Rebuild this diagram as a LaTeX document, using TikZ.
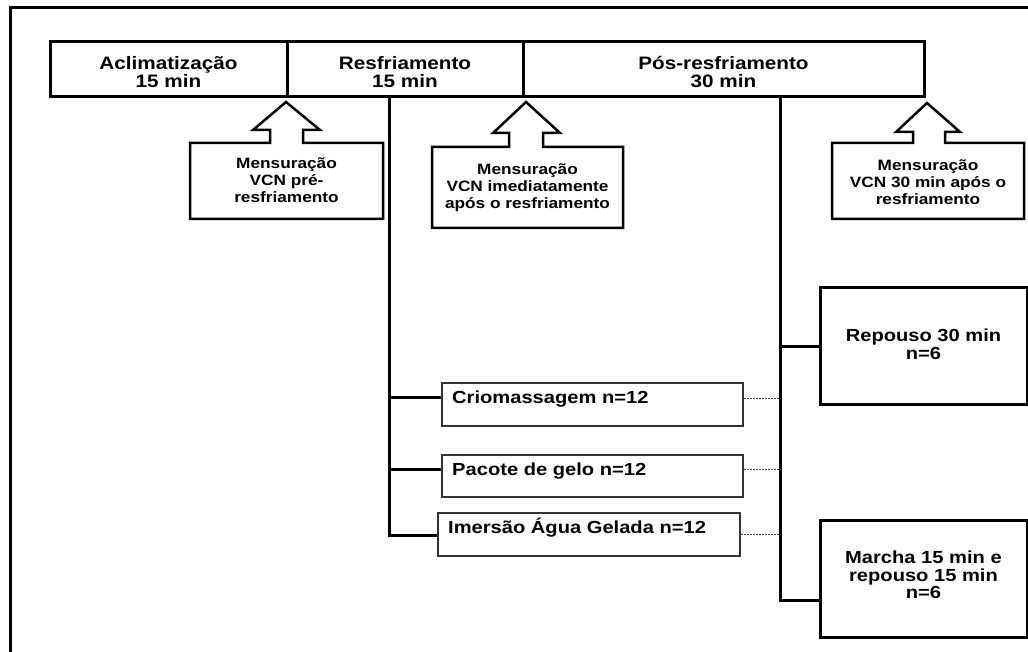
\documentclass[tikz,border=0pt]{standalone}
\usepackage{fontspec}
\newfontfamily\lsb{Liberation Sans}[FakeStretch=1.15]
\begin{document}
\begin{tikzpicture}[x=1pt,y=-1pt,
  barbox/.style={draw, line width=3pt, inner sep=0pt},
  bartext/.style={align=center, inner sep=0pt, font=\lsb\bfseries\fontsize{18}{18.5}\selectfont},
  calltext/.style={align=center, inner sep=0pt, font=\lsb\bfseries\fontsize{15}{17}\selectfont},
  callout/.style={draw, line width=2.5pt, line join=miter},
  grpbox/.style={draw=black!80, line width=1.8pt, inner sep=0pt},
  grptext/.style={anchor=west, inner sep=0pt, font=\lsb\bfseries\fontsize{17.5}{17}\selectfont},
  postbox/.style={draw, line width=3pt, inner sep=0pt},
  posttext/.style={align=center, inner sep=0pt, font=\lsb\bfseries\fontsize{17.5}{17.5}\selectfont},
  conn/.style={line width=3pt},
  dotconn/.style={line width=1pt, black!70, dash pattern=on 2pt off 1pt}]
\useasboundingbox (0,0) rectangle (1028,652);
% outer frame (left and top only)
\draw[line width=3pt] (10,652) -- (10,8) -- (1028,8);
% top bar
\node[barbox, minimum width=237pt, minimum height=55pt] (acl) at (168.5,69.5) {};
\node[barbox, minimum width=236pt, minimum height=55pt] (resf) at (405,69.5) {};
\node[barbox, minimum width=401pt, minimum height=55pt] (pos) at (723.5,69.5) {};
\node[bartext] (tacl) at (168.5,72) {Aclimatização\\15 min};
\node[bartext] (tresf) at (405,72) {Resfriamento\\15 min};
\node[bartext] (tpos) at (723.5,72) {Pós-resfriamento\\30 min};
% callouts
\draw[callout] (190,143) -- (270,143) -- (270,130) -- (253,130) -- (286,102) -- (320,130) -- (303,130) -- (303,143) -- (383,143) -- (383,219) -- (190,219) -- cycle;
\node[calltext] (m1) at (286.5,180) {Mensuração\\VCN pré-\\resfriamento};
\draw[callout] (432,147) -- (509,147) -- (509,133) -- (493,133) -- (526,102) -- (560,133) -- (543,133) -- (543,147) -- (623,147) -- (623,228) -- (432,228) -- cycle;
\node[calltext] (m2) at (527.5,188) {Mensuração\\VCN imediatamente\\após o resfriamento};
\draw[callout] (832,143) -- (913,143) -- (913,132) -- (896,132) -- (927,103) -- (960,132) -- (945,132) -- (945,143) -- (1024,143) -- (1024,219) -- (832,219) -- cycle;
\node[calltext] (m3) at (928,182) {Mensuração\\VCN 30 min após o\\resfriamento};
% cooling groups
\node[grpbox, minimum width=301pt, minimum height=43pt] (crio) at (592.5,404.5) {};
\node[grpbox, minimum width=301pt, minimum height=42pt] (pac) at (592.5,476) {};
\node[grpbox, minimum width=302pt, minimum height=43pt] (ime) at (589,534.5) {};
\node[grptext] (tcrio) at (452,399) {Criomassagem n=12};
\node[grptext] (tpac) at (452,471) {Pacote de gelo n=12};
\node[grptext] (time) at (448,528) {Imersão Água Gelada n=12};
% post-cooling groups
\node[postbox, minimum width=207pt, minimum height=116pt] (rep) at (923.5,346) {};
\node[postbox, minimum width=207pt, minimum height=117pt] (mar) at (923.5,578.5) {};
\node[posttext] (trep) at (923.5,344) {Repouso 30 min\\n=6};
\node[posttext] (tmar) at (923.5,575) {Marcha 15 min e\\repouso 15 min\\n=6};
% connectors from Resfriamento
\coordinate (rtop) at (389,97);
\coordinate (rb1) at (389,397);
\coordinate (rb2) at (389,469);
\coordinate (rb3) at (389,535);
\draw[conn] (rtop) -- (rb3) -- (rb3 -| ime.west);
\draw[conn] (rb1) -- (rb1 -| crio.west);
\draw[conn] (rb2) -- (rb2 -| pac.west);
% connectors from Pós-resfriamento
\coordinate (ptop) at (780,97);
\coordinate (pb1) at (780,346);
\coordinate (pb2) at (780,600);
\draw[conn] (ptop) -- (pb2) -- (pb2 -| mar.west);
\draw[conn] (pb1) -- (rep.west);
% dotted links
\coordinate (d1) at (780,398);
\coordinate (d2) at (780,469);
\coordinate (d3) at (780,534);
\draw[dotconn] (d1 -| crio.east) -- (d1);
\draw[dotconn] (d2 -| pac.east) -- (d2);
\draw[dotconn] (d3 -| ime.east) -- (d3);
\end{tikzpicture}
\end{document}
